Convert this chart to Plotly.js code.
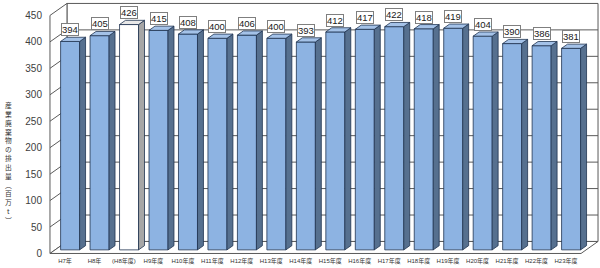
<!DOCTYPE html>
<html><head><meta charset="utf-8">
<script src="https://cdn.plot.ly/plotly-3.0.1.min.js"></script>
<style>html,body{margin:0;padding:0;background:#fff;overflow:hidden}</style>
</head><body>
<div id="chart" style="width:600px;height:268px"></div>
<script>
// ---- data ----
const categories = ['H7年','H8年','(H8年度)','H9年度','H10年度','H11年度','H12年度','H13年度','H14年度',
  'H15年度','H16年度','H17年度','H18年度','H19年度','H20年度','H21年度','H22年度','H23年度'];
const values = [394,405,426,415,408,400,406,400,393,412,417,422,418,419,404,390,386,381];
const highlighted = ['(H8年度)'];
const yTickValues = [0,50,100,150,200,250,300,350,400,450];
const yTitle = '産業廃棄物の排出量︵百万t︶';   // written vertically

// ---- 3D projection styling constants ----
const DX = 0.577, DY = 22.7;          // full depth offset (x units, y units)
const F0 = 0.30, F1 = 0.65;           // bar front / back depth fractions
const BAR_W = 0.645;
const L = -0.51, R = categories.length - 1 + 0.51, TOP = yTickValues[yTickValues.length-1];
const FRONT = '#8DB3E2', SIDE = '#56708F', TOPC = '#A4C2E8', EDGE = '#1F3350';
const WFRONT = '#FFFFFF', WSIDE = '#A6A6A6', WTOP = '#E8E8E8';
const WALL = '#5A5A5A';

const idx = categories.map((c,i)=>i);
const isHi = categories.map(c => highlighted.includes(c));

const traces = [];
traces.push({
  type:'bar', x: idx.map(i=>i+F0*DX), y: values, base: F0*DY, width: BAR_W,
  marker:{color: isHi.map(h=>h?WFRONT:FRONT), line:{color:EDGE, width:0.8}},
  hoverinfo:'skip', showlegend:false
});
idx.forEach(i=>{
  const v = values[i];
  const xl = i + F0*DX - BAR_W/2, xr = i + F0*DX + BAR_W/2;
  const ddx = (F1-F0)*DX, ddy = (F1-F0)*DY, b = F0*DY;
  traces.push({type:'scatter', mode:'lines', fill:'toself',
    x:[xr, xr+ddx, xr+ddx, xr, xr], y:[b, b+ddy, v+b+ddy, v+b, b],
    fillcolor: isHi[i]?WSIDE:SIDE, line:{color:EDGE, width:0.8}, hoverinfo:'skip', showlegend:false});
  traces.push({type:'scatter', mode:'lines', fill:'toself',
    x:[xl, xr, xr+ddx, xl+ddx, xl], y:[v+b, v+b, v+b+ddy, v+b+ddy, v+b],
    fillcolor: isHi[i]?WTOP:TOPC, line:{color:EDGE, width:0.8}, hoverinfo:'skip', showlegend:false});
});

const shapes = [];
const ln = {color:WALL, width:1};
shapes.push({type:'path', layer:'below', line:ln, fillcolor:'#fff',
  path:`M${L+DX},${DY} L${R+DX},${DY} L${R+DX},${TOP+DY} L${L+DX},${TOP+DY} Z`});
shapes.push({type:'path', layer:'below', line:ln, fillcolor:'#fff',
  path:`M${L},0 L${L+DX},${DY} L${L+DX},${TOP+DY} L${L},${TOP} Z`});
shapes.push({type:'path', layer:'below', line:ln, fillcolor:'#fff',
  path:`M${L},0 L${R},0 L${R+DX},${DY} L${L+DX},${DY} Z`});
yTickValues.slice(1, -1).forEach(t=>{
  shapes.push({type:'line', layer:'below', line:ln, x0:L+DX, x1:R+DX, y0:t+DY, y1:t+DY});
  shapes.push({type:'line', layer:'below', line:ln, x0:L, x1:L+DX, y0:t, y1:t+DY});
});

const annotations = [];
// vertical (top-to-bottom) axis title: one glyph per line
const PLOT_H = 254;
annotations.push({xref:'paper', yref:'paper', x:(8-49)/551, y:(PLOT_H-162)/PLOT_H,
  xanchor:'center', yanchor:'middle', text:Array.from(yTitle).join('<br>'), showarrow:false,
  font:{family:'Noto Sans CJK JP', size:6.8, color:'#333333'}});
idx.forEach(i=>{
  annotations.push({x:i+F0*DX, y:values[i]+F1*DY, yanchor:'bottom', xanchor:'center', yshift:1,
    text:String(values[i]), showarrow:false, bgcolor:'#fff', bordercolor:'#7F7F7F', borderwidth:1, borderpad:0,
    font:{family:'Liberation Sans, Arial, sans-serif', size:9.5, color:'#1a1a1a'}});
});

const layout = {
  width:600, height:268, margin:{l:49, r:0, t:0, b:14},
  paper_bgcolor:'#fff', plot_bgcolor:'rgba(0,0,0,0)', showlegend:false,
  xaxis:{type:'linear', range:[-0.543, 18.154], tickvals: idx, ticktext: categories,
    showgrid:false, zeroline:false, showline:false, ticks:'', ticklabelstandoff:2,
    tickfont:{family:'Liberation Sans, Noto Sans CJK JP', size:6, color:'#333'}},
  yaxis:{range:[-1, 479.2], tickvals:yTickValues, showgrid:false, zeroline:false, showline:false,
    ticks:'', ticklabelstandoff:6, tickfont:{family:'Liberation Sans, Arial, sans-serif', size:10, color:'#404040'}},
  shapes: shapes, annotations: annotations
};

Plotly.newPlot('chart', traces, layout, {staticPlot:true, displayModeBar:false});
</script>
</body></html>
